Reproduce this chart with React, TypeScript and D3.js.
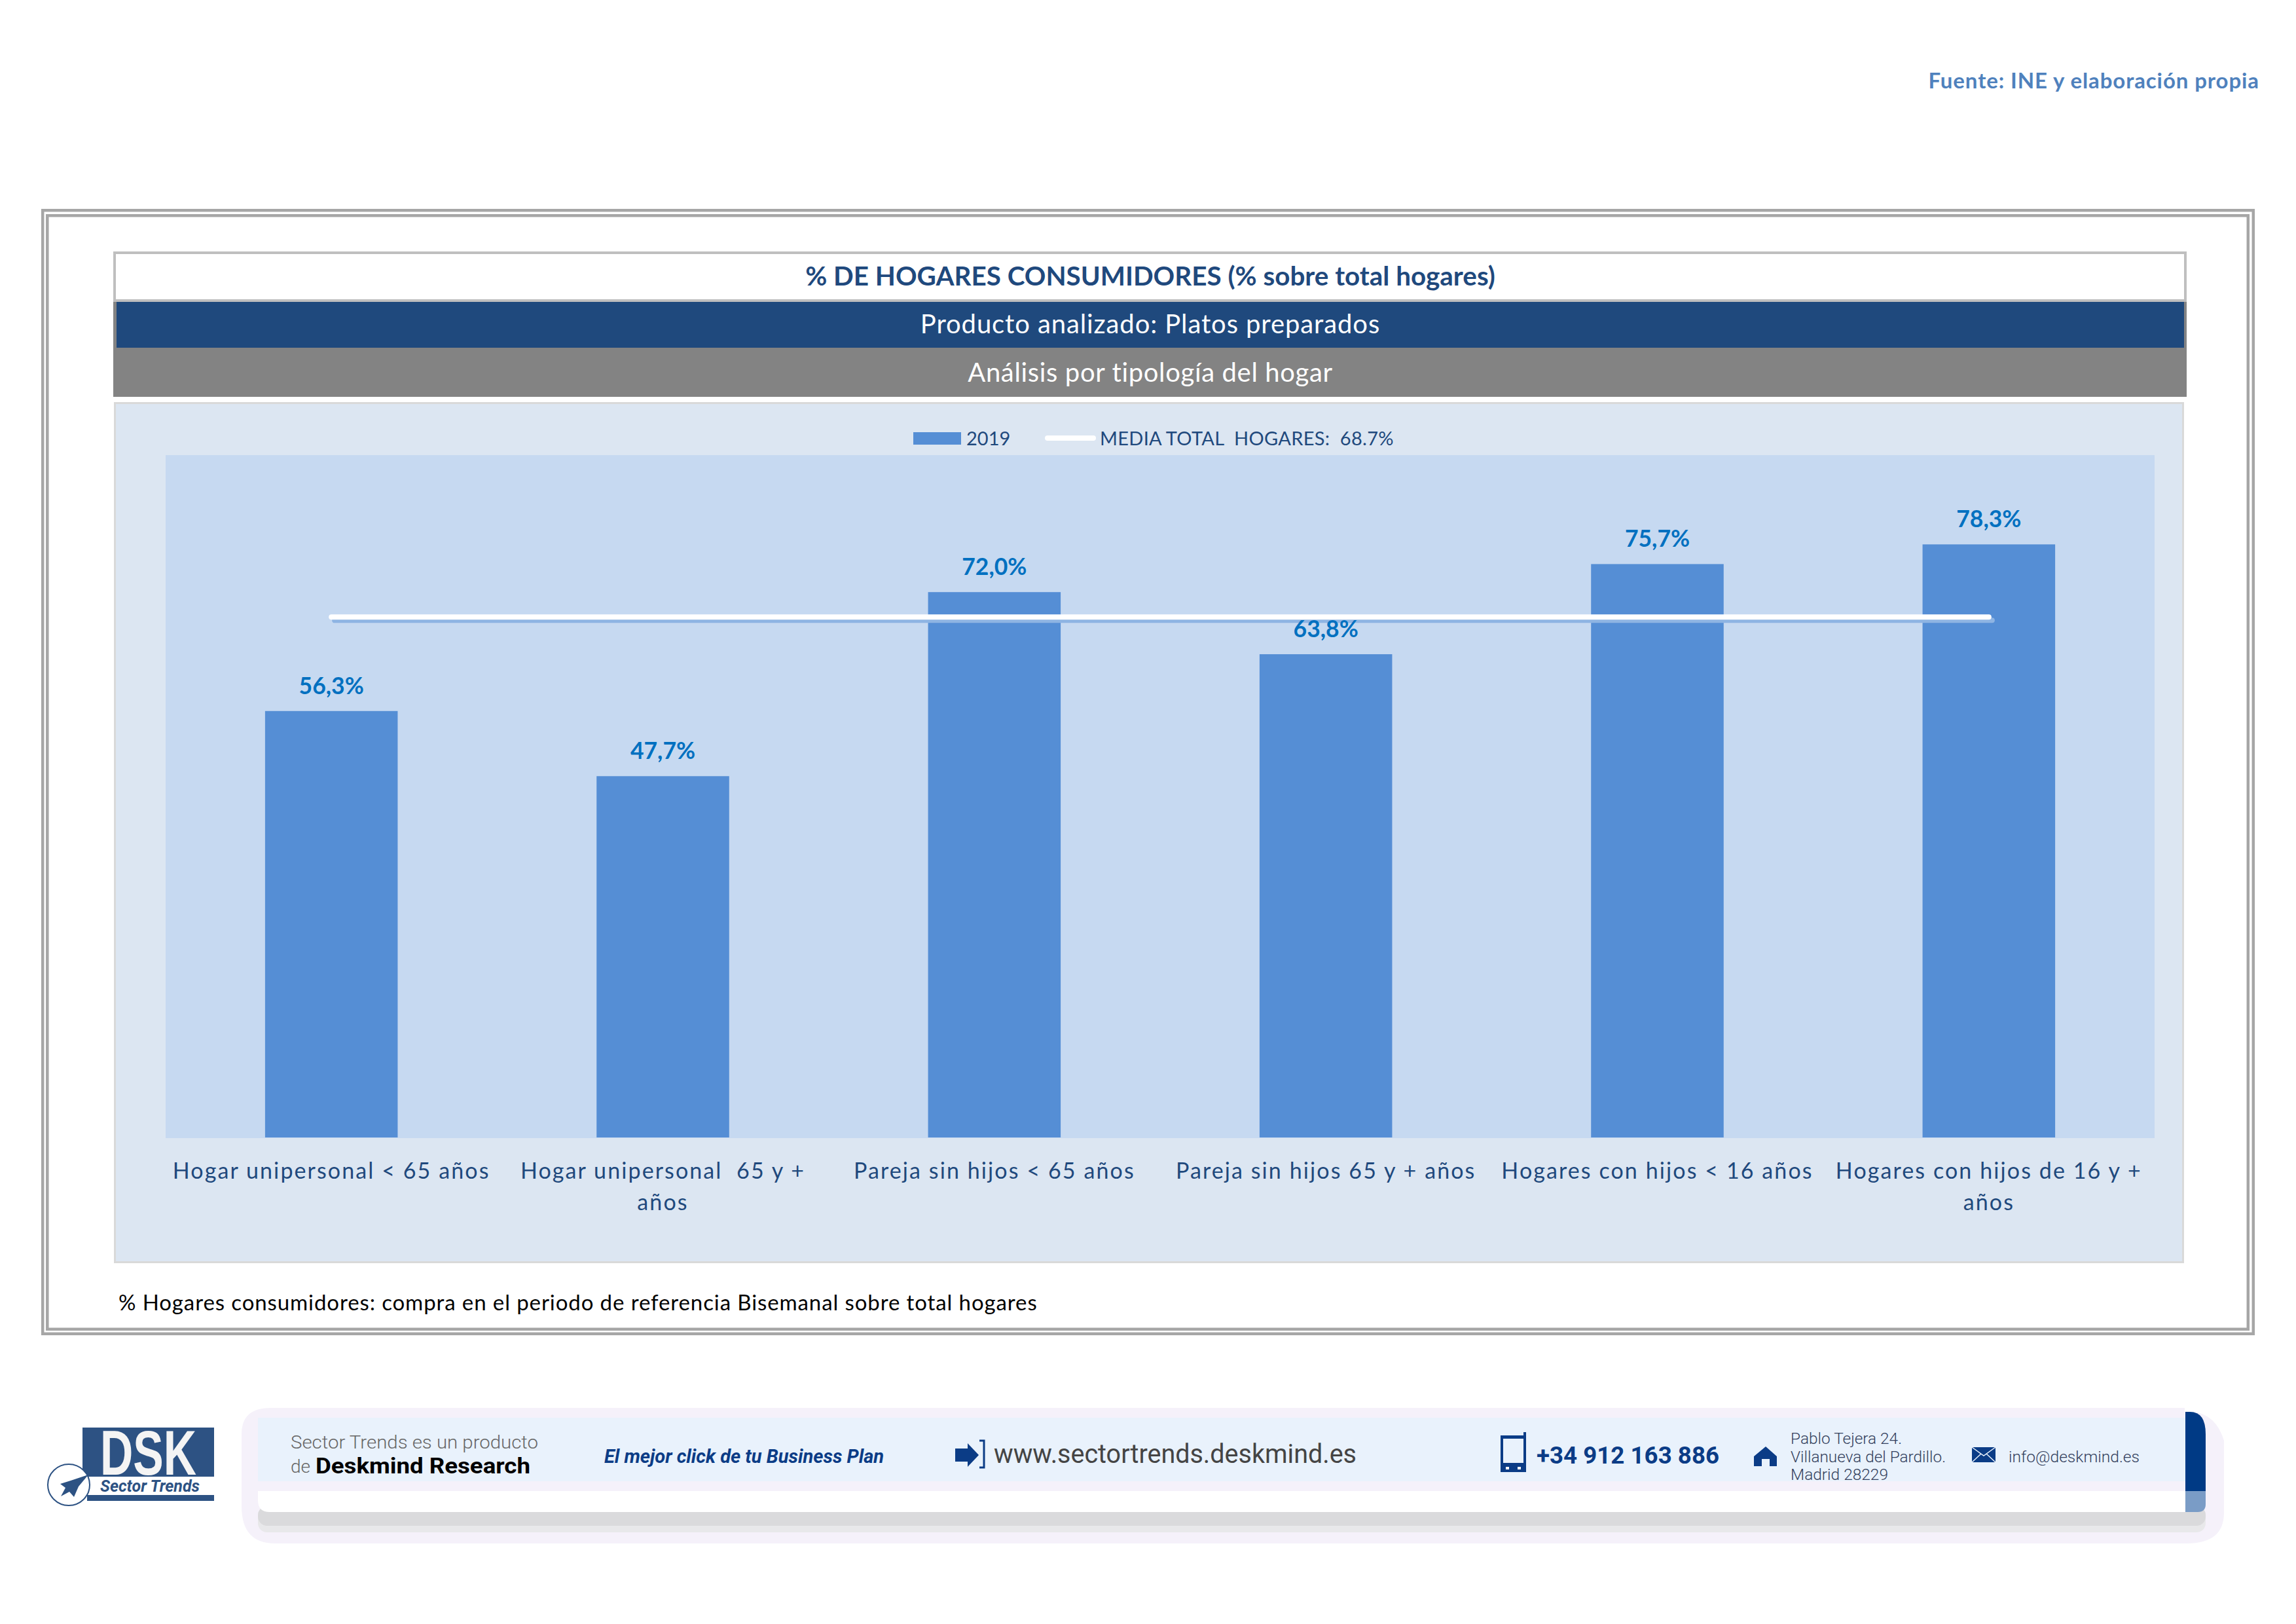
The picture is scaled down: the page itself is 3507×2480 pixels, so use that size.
import React, { useEffect, useRef } from 'react';
import * as d3 from 'd3';

const categories = [
  'Hogar unipersonal < 65 años',
  'Hogar unipersonal  65 y + años',
  'Pareja sin hijos < 65 años',
  'Pareja sin hijos 65 y + años',
  'Hogares con hijos < 16 años',
  'Hogares con hijos de 16 y + años',
];
const categoryLines = [
  ['Hogar unipersonal < 65 años'],
  ['Hogar unipersonal  65 y +', 'años'],
  ['Pareja sin hijos < 65 años'],
  ['Pareja sin hijos 65 y + años'],
  ['Hogares con hijos < 16 años'],
  ['Hogares con hijos de 16 y +', 'años'],
];
const values2019 = [56.3, 47.7, 72.0, 63.8, 75.7, 78.3];
const mediaTotal = 68.7;
const yDomain = [0, 90];

const NAVY = '#1f497d';
const BAR = '#558ed5';
const FONT = 'Lato, sans-serif';
const FOOT = '#0b3c86';

const Txt: React.FC<any> = ({ children, width, ...rest }) => (
  <text
    fontFamily={FONT}
    style={{ whiteSpace: 'pre' }}
    {...(width ? { textLength: width, lengthAdjust: 'spacingAndGlyphs' } : {})}
    {...rest}
  >
    {children}
  </text>
);

const App: React.FC = () => {
  const chartRef = useRef<SVGGElement>(null);

  useEffect(() => {
    if (!chartRef.current) return;
    const g = d3.select(chartRef.current);
    g.selectAll('*').remove();

    const plot = { left: 253, right: 3291, top: 696, bottom: 1737 };

    // Scales
    const x = d3.scaleBand<string>()
      .domain(categories)
      .range([plot.left, plot.right])
      .paddingInner(0.6)
      .paddingOuter(0.3);
    const y = d3.scaleLinear().domain(yDomain).range([plot.bottom, plot.top]);
    const center = (c: string) => x(c)! + x.bandwidth() / 2;

    g.append('rect')
      .attr('x', plot.left).attr('y', plot.top - 1)
      .attr('width', plot.right - plot.left).attr('height', plot.bottom - plot.top + 2)
      .attr('fill', '#c6d9f1');

    // Bars
    g.selectAll('.bar')
      .data(values2019)
      .enter()
      .append('rect')
      .attr('class', 'bar')
      .attr('x', (_, i) => x(categories[i])!)
      .attr('y', d => y(d))
      .attr('width', x.bandwidth())
      .attr('height', d => y(0) - y(d))
      .attr('fill', BAR);

    // Media line with its shadow
    const line = d3.line<string>().x(center).y(() => y(mediaTotal));
    const ends = [categories[0], categories[categories.length - 1]];
    g.append('path')
      .attr('d', line(ends)!)
      .attr('transform', 'translate(5,5)')
      .attr('fill', 'none')
      .attr('stroke', '#8eb4e3')
      .attr('stroke-width', 8)
      .attr('stroke-linecap', 'round');
    g.append('path')
      .attr('d', line(ends)!)
      .attr('fill', 'none')
      .attr('stroke', '#ffffff')
      .attr('stroke-width', 8)
      .attr('stroke-linecap', 'round');

    // Value labels
    g.selectAll('.value')
      .data(values2019)
      .enter()
      .append('text')
      .attr('class', 'value')
      .attr('x', (_, i) => center(categories[i]))
      .attr('y', d => y(d) - 26)
      .attr('text-anchor', 'middle')
      .attr('font-family', FONT)
      .attr('font-weight', 700)
      .attr('font-size', 35.5)
      .attr('fill', '#0070c0')
      .text(d => `${d.toFixed(1).replace('.', ',')}%`);

    // Category axis
    const axis = g.append('g')
      .attr('transform', `translate(0,${plot.bottom})`)
      .call(d3.axisBottom(x).tickSize(0));
    axis.select('.domain').remove();
    axis.selectAll<SVGTextElement, string>('text')
      .attr('font-family', FONT)
      .attr('font-size', 34)
      .attr('letter-spacing', 2.1)
      .attr('fill', NAVY)
      .attr('y', 0)
      .attr('dy', 0)
      .style('white-space', 'pre')
      .each(function (d) {
        const lines = categoryLines[categories.indexOf(d)];
        const t = d3.select(this).text(null);
        lines.forEach((l, i) => {
          t.append('tspan').attr('x', 0).attr('y', 63 + i * 48).text(l);
        });
      });
  }, []);

  return (
    <svg width={3507} height={2480} viewBox="0 0 3507 2480"
      style={{ position: 'absolute', left: 0, top: 0, display: 'block', background: '#ffffff' }}>
      <Txt x={3451} y={135} textAnchor="end" fontWeight={700} fontSize={33} letterSpacing={0.9} fill="#4f81bd">Fuente: INE y elaboración propia</Txt>

      {/* double frame */}
      <rect x={65.2} y={321.2} width={3376.6} height={1715.6} fill="none" stroke="#a6a6a6" strokeWidth={4.5} />
      <rect x={72.3} y={329.2} width={3361.5} height={1700.6} fill="none" stroke="#a6a6a6" strokeWidth={4.5} />

      {/* heading bands */}
      <rect x={173} y={457} width={3167} height={149} fill="#838383" />
      <rect x={175} y={386} width={3163} height={73} fill="#ffffff" stroke="#bfbfbf" strokeWidth={4} />
      <rect x={178} y={461} width={3158} height={70} fill="#1f497d" />
      <Txt x={1757} y={436} textAnchor="middle" fontWeight={700} fontSize={40.4} fill={NAVY}>% DE HOGARES CONSUMIDORES (% sobre total hogares)</Txt>
      <Txt x={1757} y={509} textAnchor="middle" fontSize={40} letterSpacing={0.9} fill="#ffffff">Producto analizado: Platos preparados</Txt>
      <Txt x={1757} y={583} textAnchor="middle" fontSize={40} letterSpacing={0.65} fill="#ffffff">Análisis por tipología del hogar</Txt>

      {/* chart area */}
      <rect x={175.5} y={615.5} width={3159} height={1312} fill="#dce6f2" stroke="#d9d9d9" strokeWidth={3} />
      <g ref={chartRef} />

      {/* legend */}
      <rect x={1395} y={660} width={73} height={19} fill={BAR} />
      <Txt x={1476} y={680} fontSize={29} fill={NAVY}>2019</Txt>
      <line x1={1600} x2={1670} y1={669} y2={669} stroke="#ffffff" strokeWidth={8} strokeLinecap="round" />
      <Txt x={1680} y={680} fontSize={29} letterSpacing={0.3} fill={NAVY}>MEDIA TOTAL  HOGARES:  68.7%</Txt>

      <Txt x={181} y={2001} fontSize={33} letterSpacing={0.9} fill="#000000">% Hogares consumidores: compra en el periodo de referencia Bisemanal sobre total hogares</Txt>

      {/* footer banner */}
      <path d="M413 2150H3337V2156H3350Q3385 2160 3397 2200V2310Q3397 2357 3340 2357H420Q369 2357 369 2300V2190Q369 2150 413 2150Z" fill="#f5f1fa" />
      <rect x={394} y={2300} width={2975} height={40} rx={14} fill="#e8e8ea" />
      <rect x={394} y={2300} width={2975} height={30} rx={14} fill="#dadadc" />
      <rect x={394} y={2165} width={2944} height={97} fill="#e9f2fc" />
      <path d="M394 2277H3338V2309H412Q394 2309 394 2291Z" fill="#ffffff" />
      <path d="M3338 2156H3345Q3369 2156 3369 2190V2277H3338Z" fill="#003a85" />
      <path d="M3338 2277H3369V2297Q3369 2309 3357 2309H3338Z" fill="#7a9cc6" />

      {/* logo */}
      <rect x={126} y={2180} width={201} height={75} fill="#2d5283" />
      <Txt x={153} y={2252} fontFamily="Liberation Sans" fontWeight={700} fontSize={96} fill="#f4f4f4" width={147}>DSK</Txt>
      <Txt x={153} y={2278} fontFamily="Roboto" fontStyle="italic" fontWeight={700} fontSize={25} fill="#2d5283" width={152}>Sector Trends</Txt>
      <rect x={133} y={2283} width={194} height={9} fill="#2d5283" />
      <ellipse cx={105} cy={2267.5} rx={32} ry={31.5} fill="#ffffff" stroke="#2d5283" strokeWidth={2} />
      <path d="M135 2252L108 2261L92 2266L100 2272L93 2285L106 2278L113 2286L120 2270Z" fill="#2d5283" />

      {/* banner text */}
      <Txt x={444} y={2212} fontFamily="Roboto" fontWeight={300} fontSize={28} fill="#666666" width={378}>Sector Trends es un producto</Txt>
      <Txt x={444} y={2249} fontFamily="Roboto" fontWeight={300} fontSize={28} fill="#666666">de</Txt>
      <Txt x={482} y={2250} fontFamily="Roboto" fontWeight={700} fontSize={33} fill="#000000" width={328}>Deskmind Research</Txt>
      <Txt x={923} y={2234} fontFamily="Roboto" fontStyle="italic" fontWeight={700} fontSize={30} fill={FOOT} width={427}>El mejor click de tu Business Plan</Txt>

      <path d="M1459 2212H1478V2204L1495 2222L1478 2240V2232H1459Z" fill={FOOT} />
      <path d="M1496 2200H1503V2241H1496" fill="none" stroke={FOOT} strokeWidth={3} />
      <Txt x={1518} y={2234} fontFamily="Roboto" fontSize={40} fill="#444444" width={554}>www.sectortrends.deskmind.es</Txt>

      <rect x={2294} y={2194} width={35} height={52} fill="none" stroke={FOOT} strokeWidth={4} />
      <rect x={2292} y={2192} width={39} height={5} fill={FOOT} />
      <rect x={2327} y={2187} width={4} height={6} fill={FOOT} />
      <rect x={2294} y={2234} width={35} height={14} fill={FOOT} />
      <rect x={2300} y={2240} width={5} height={4} fill="#ffffff" />
      <rect x={2318} y={2240} width={5} height={4} fill="#ffffff" />
      <Txt x={2347} y={2235} fontFamily="Roboto" fontWeight={700} fontSize={36} fill={FOOT} width={279}>+34 912 163 886</Txt>

      <path d="M2697 2209L2714 2224V2239H2703V2228H2691V2239H2679V2224Z" fill={FOOT} />
      <Txt x={2735} y={2205} fontFamily="Roboto" fontWeight={300} fontSize={23} fill="#333f5c" width={170}>Pablo Tejera 24.</Txt>
      <Txt x={2735} y={2233} fontFamily="Roboto" fontWeight={300} fontSize={23} fill="#333f5c" width={237}>Villanueva del Pardillo.</Txt>
      <Txt x={2735} y={2260} fontFamily="Roboto" fontWeight={300} fontSize={23} fill="#333f5c" width={149}>Madrid 28229</Txt>

      <rect x={3012} y={2210} width={36} height={23} fill={FOOT} />
      <path d="M3012 2210L3030 2223L3048 2210M3012 2233L3026 2220M3048 2233L3034 2220" fill="none" stroke="#e9f2fc" strokeWidth={1.5} />
      <Txt x={3068} y={2233} fontFamily="Roboto" fontWeight={300} fontSize={23} fill="#333f5c" width={200}>info@deskmind.es</Txt>
    </svg>
  );
};

export default App;
